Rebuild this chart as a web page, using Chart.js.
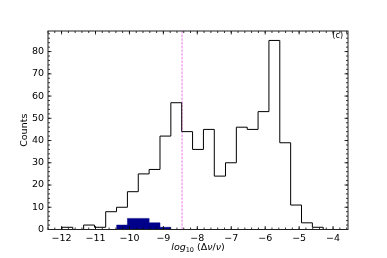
<!DOCTYPE html>
<html>
<head>
<meta charset="utf-8">
<script src="https://cdn.jsdelivr.net/npm/chart.js@4/dist/chart.umd.min.js"></script>
<style>
  html, body { margin: 0; padding: 0; background: #fff; }
  #wrap { width: 387px; height: 258px; }
</style>
</head>
<body>
<div id="wrap"><canvas id="chart" width="387" height="258"></canvas></div>
<script>
// histogram bin edges (log10 of dnu/nu)
var binEdges = [-11.99, -11.67, -11.35, -11.03, -10.70, -10.38, -10.06, -9.74, -9.42,
  -9.10, -8.78, -8.46, -8.14, -7.82, -7.50, -7.17, -6.85, -6.53, -6.21, -5.89,
  -5.57, -5.25, -4.93, -4.61, -4.29];
// all counts (black outline)
var allCounts = [1, 0, 2, 1, 8, 10, 17, 25, 27, 42, 57, 44, 36, 45, 24, 30, 46, 45, 53, 85, 39, 11, 3, 1];
// sub-sample counts (blue filled), first bin starts at binEdges[5]
var subStart = 5;
var subCounts = [2, 5, 5, 3, 1];
// vertical dashed threshold
var cutValue = -8.45;
var xTicks = [-12, -11, -10, -9, -8, -7, -6, -5, -4];
var yTicks = [0, 10, 20, 30, 40, 50, 60, 70, 80];
var xMin = -12.4, xMax = -3.56;
var yMin = 0, yMax = 89.25;
var panelTag = '(c)';
var yTitle = 'Counts';

// step outline points for a histogram
function stepPoints(edges, counts) {
  var pts = [{x: edges[0], y: 0}];
  for (var i = 0; i < counts.length; i++) {
    pts.push({x: edges[i], y: counts[i]});
  }
  pts.push({x: edges[counts.length], y: counts[counts.length - 1]});
  pts.push({x: edges[counts.length], y: 0});
  return pts;
}

Chart.defaults.font.family = '"DejaVu Sans", sans-serif';
Chart.defaults.color = '#000';

var FONT = '"DejaVu Sans", sans-serif';

// inward ticks on four sides, frame, axis titles, panel tag
var decorPlugin = {
  id: 'decor',
  afterDraw: function(chart) {
    var c = chart.ctx, a = chart.chartArea;
    var xs = chart.scales.x, ys = chart.scales.y;
    c.save();
    c.strokeStyle = '#000';
    c.lineWidth = 0.8;
    function tickX(v, len) {
      var px = xs.getPixelForValue(v);
      c.beginPath();
      c.moveTo(px, a.bottom); c.lineTo(px, a.bottom - len);
      c.moveTo(px, a.top); c.lineTo(px, a.top + len);
      c.stroke();
    }
    function tickY(v, len) {
      var py = ys.getPixelForValue(v);
      c.beginPath();
      c.moveTo(a.left, py); c.lineTo(a.left + len, py);
      c.moveTo(a.right, py); c.lineTo(a.right - len, py);
      c.stroke();
    }
    var v;
    for (v = Math.ceil(xMin / 0.2) * 0.2; v <= xMax; v += 0.2) tickX(v, 2);
    for (v = 0; v <= yMax; v += 2) tickY(v, 2);
    xTicks.forEach(function(t) { tickX(t, 3.5); });
    yTicks.forEach(function(t) { tickY(t, 3.5); });
    c.strokeStyle = '#222';
    c.lineWidth = 1;
    c.strokeRect(a.left, a.top, a.right - a.left, a.bottom - a.top);

    // panel tag
    c.fillStyle = '#000';
    c.font = '8px ' + FONT;
    c.textAlign = 'right';
    c.textBaseline = 'alphabetic';
    c.fillText(panelTag, a.right - 5, a.top + 7);

    // y title
    c.save();
    c.translate(25, (a.top + a.bottom) / 2);
    c.rotate(-Math.PI / 2);
    c.textAlign = 'center';
    c.textBaseline = 'middle';
    c.font = '9.5px ' + FONT;
    c.fillText(yTitle, 0, 0);
    c.restore();

    // x title: log10 (Δν/ν)
    var parts = [
      {t: 'log', f: 'italic 9.5px ' + FONT, dy: 0},
      {t: '10', f: '6.5px ' + FONT, dy: 2},
      {t: ' (Δ', f: '9.5px ' + FONT, dy: 0},
      {t: 'ν', f: 'italic 9.5px ' + FONT, dy: 0},
      {t: '/', f: '9.5px ' + FONT, dy: 0},
      {t: 'ν', f: 'italic 9.5px ' + FONT, dy: 0},
      {t: ')', f: '9.5px ' + FONT, dy: 0}
    ];
    var total = 0;
    parts.forEach(function(p) { c.font = p.f; p.w = c.measureText(p.t).width; total += p.w; });
    var x0 = (a.left + a.right) / 2 - total / 2;
    c.textAlign = 'left';
    parts.forEach(function(p) {
      c.font = p.f;
      c.fillText(p.t, x0, 250 + p.dy);
      x0 += p.w;
    });
    c.restore();
  }
};

var ctx = document.getElementById('chart');
var chart = new Chart(ctx, {
  type: 'line',
  data: {
    datasets: [
      {
        data: stepPoints(binEdges.slice(subStart, subStart + subCounts.length + 1), subCounts),
        stepped: true,
        fill: 'origin',
        backgroundColor: '#00008b',
        borderColor: '#00008b',
        borderWidth: 0.5,
        pointRadius: 0
      },
      {
        data: stepPoints(binEdges, allCounts),
        stepped: true,
        fill: false,
        borderColor: '#000',
        borderWidth: 1,
        pointRadius: 0
      },
      {
        data: [{x: cutValue, y: yMin}, {x: cutValue, y: yMax}],
        fill: false,
        borderColor: '#ee7aee',
        borderWidth: 1,
        borderDash: [2.5, 1.2],
        pointRadius: 0
      }
    ]
  },
  options: {
    responsive: false,
    animation: false,
    events: [],
    layout: { padding: { left: 0, right: 39, top: 31, bottom: 0 } },
    plugins: { legend: { display: false }, tooltip: { enabled: false }, title: { display: false } },
    scales: {
      x: {
        type: 'linear',
        min: xMin,
        max: xMax,
        grid: { display: false, drawTicks: false },
        border: { display: false },
        afterBuildTicks: function(scale) {
          scale.ticks = xTicks.map(function(t) { return {value: t}; });
        },
        afterFit: function(scale) { scale.height = 28.5; },
        ticks: {
          padding: 3,
          maxRotation: 0,
          autoSkip: false,
          font: { size: 9.5 },
          color: '#000',
          callback: function(v) { return v < 0 ? '\u2212' + Math.abs(v) : String(v); }
        }
      },
      y: {
        type: 'linear',
        min: yMin,
        max: yMax,
        grid: { display: false, drawTicks: false },
        border: { display: false },
        afterBuildTicks: function(scale) {
          scale.ticks = yTicks.map(function(t) { return {value: t}; });
        },
        afterFit: function(scale) { scale.width = 48; },
        ticks: {
          padding: 4,
          autoSkip: false,
          font: { size: 9.5 },
          color: '#000'
        }
      }
    }
  },
  plugins: [decorPlugin]
});
</script>
</body>
</html>
